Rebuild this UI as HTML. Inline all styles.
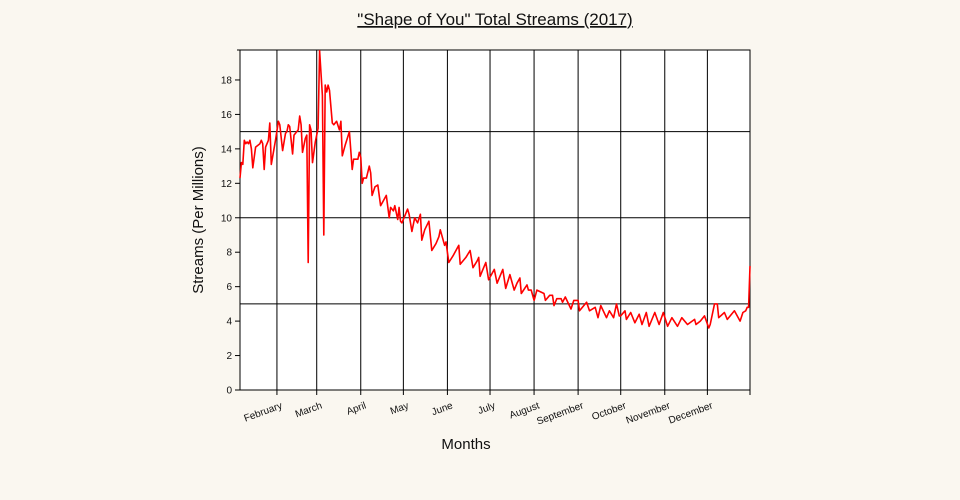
<!DOCTYPE html>
<html><head><meta charset="utf-8"><style>
body{margin:0;background:#faf7f0;}
svg{display:block;font-family:"Liberation Sans",sans-serif;}
</style></head><body>
<svg id="chart" width="960" height="500" viewBox="0 0 960 500">
<rect width="960" height="500" fill="#faf7f0"/>
<text x="495" y="25" text-anchor="middle" font-size="17" text-decoration="underline" fill="#111">"Shape of You" Total Streams (2017)</text>
<rect x="240" y="50" width="510" height="340" fill="#fff"/>
<g id="grid"></g><g id="axes"></g>
<text transform="translate(203,220) rotate(-90)" text-anchor="middle" font-size="15" fill="#111">Streams (Per Millions)</text>
<text x="466" y="449" text-anchor="middle" font-size="15" fill="#111">Months</text>
</svg>
<script>
const days=[0,1,2,3,4,5,6,7,8,9,11,14,15,16,17,18,20,21,22,25,27,28,30,32,33,34,35,37,38,41,42,43,44,46,47,48,49,50,51,53,55,56,58,59,60,61,62,63,65,66,68,70,71,72,74,77,79,80,83,84,85,86,87,89,91,92,93,95,97,98,99,101,103,105,106,108,109,111,112,113,114,118,119,121,123,125,127,128,130,133,135,138,140,141,144,145,147,150,154,155,159,162,164,167,168,169,171,173,175,179,181,185,187,190,193,195,197,198,202,203,205,207,209,214,215,218,220,221,223,226,227,229,233,235,238,239,244,246,250,252,254,258,260,263,265,267,268,271,272,275,278,281,283,286,288,292,295,298,301,304,308,311,315,320,321,324,327,330,331,334,336,337,341,343,348,352,354,356,357,358,359];
const streams=[12.3,13.2,13.1,14.5,14.3,14.4,14.3,14.5,14.0,12.9,14.1,14.3,14.5,14.3,12.8,14.1,14.5,15.5,13.1,14.5,15.6,15.4,13.9,14.9,15.0,15.4,15.3,13.7,14.8,15.1,15.9,15.4,13.8,14.6,14.8,7.4,15.4,15.1,13.2,14.4,15.2,19.7,17.1,9.0,17.7,17.3,17.7,17.4,15.5,15.4,15.6,15.1,15.6,13.6,14.2,15.0,12.8,13.4,13.4,13.8,13.5,12.0,12.3,12.3,13.0,12.6,11.3,11.8,11.9,11.3,10.7,11.0,11.3,10.0,10.6,10.4,10.7,9.9,10.6,9.8,9.7,10.5,10.2,9.2,10.0,9.7,10.2,8.7,9.3,9.8,8.1,8.5,8.9,9.3,8.4,8.6,7.4,7.8,8.4,7.3,7.7,8.1,7.1,7.5,7.7,6.6,7.0,7.4,6.4,7.0,6.2,7.0,5.9,6.7,5.8,6.2,6.5,5.6,6.1,5.8,5.8,5.2,5.8,5.6,5.2,5.5,5.5,4.9,5.3,5.3,5.1,5.4,4.7,5.2,5.2,4.6,5.1,4.6,4.8,4.2,4.9,4.2,4.6,4.2,5.0,4.3,4.3,4.6,4.1,4.5,3.9,4.4,3.8,4.5,3.7,4.5,3.8,4.5,3.7,4.2,3.7,4.2,3.8,4.1,3.8,4.0,4.3,3.6,3.8,5.0,5.0,4.2,4.5,4.1,4.6,4.0,4.5,4.6,4.8,4.8,7.2];
const monthNames=["February","March","April","May","June","July","August","September","October","November","December"];
const monthStarts=[26,54,85,115,146,176,207,238,268,299,329];
const yTicks=[0,2,4,6,8,10,12,14,16,18];
const yGrid=[5,10,15];
const X0=240,X1=750,Y0=390,Y1=50,DMAX=359,VMAX=19.74;
const xs=d=>X0+(d/DMAX)*(X1-X0);
const ys=v=>Y0-(v/VMAX)*(Y0-Y1);
const NS="http://www.w3.org/2000/svg";
const svg=document.getElementById('chart');
const grid=document.getElementById('grid'),axes=document.getElementById('axes');
function mk(tag,attrs,parent){const e=document.createElementNS(NS,tag);for(const k in attrs)e.setAttribute(k,attrs[k]);parent.appendChild(e);return e;}
yGrid.forEach(v=>{const l=mk('line',{x1:X0,x2:X1,y1:ys(v),y2:ys(v),stroke:'#000','stroke-width':1},grid);

});
monthStarts.forEach((d,i)=>{const l=mk('line',{x1:xs(d),x2:xs(d),y1:Y1,y2:Y0+5,stroke:'#000','stroke-width':1},grid);


const t=mk('text',{x:xs(d)+6,y:Y0+18,'text-anchor':'end','font-size':10,fill:'#111',transform:`rotate(-20 ${xs(d)+6} ${Y0+18})`},axes);
t.textContent=monthNames[i];

});
const fr=mk('path',{d:`M${X0-3},${Y1}H${X1}V${Y0+5}M${X0},${Y1}V${Y0}H${X1}`,fill:'none',stroke:'#000','stroke-width':1},axes);


yTicks.forEach(v=>{const l=mk('line',{x1:X0-5,x2:X0,y1:ys(v),y2:ys(v),stroke:'#000'},axes);


const t=mk('text',{x:X0-8,y:ys(v)+3.5,'text-anchor':'end','font-size':10,fill:'#111'},axes);
t.textContent=v;

});
const p=mk('path',{d:days.map((d,i)=>(i?'L':'M')+xs(d).toFixed(1)+','+ys(streams[i]).toFixed(1)).join(''),fill:'none',stroke:'#f00','stroke-width':1.6,'stroke-linejoin':'round'},svg);


</script>
</body></html>
